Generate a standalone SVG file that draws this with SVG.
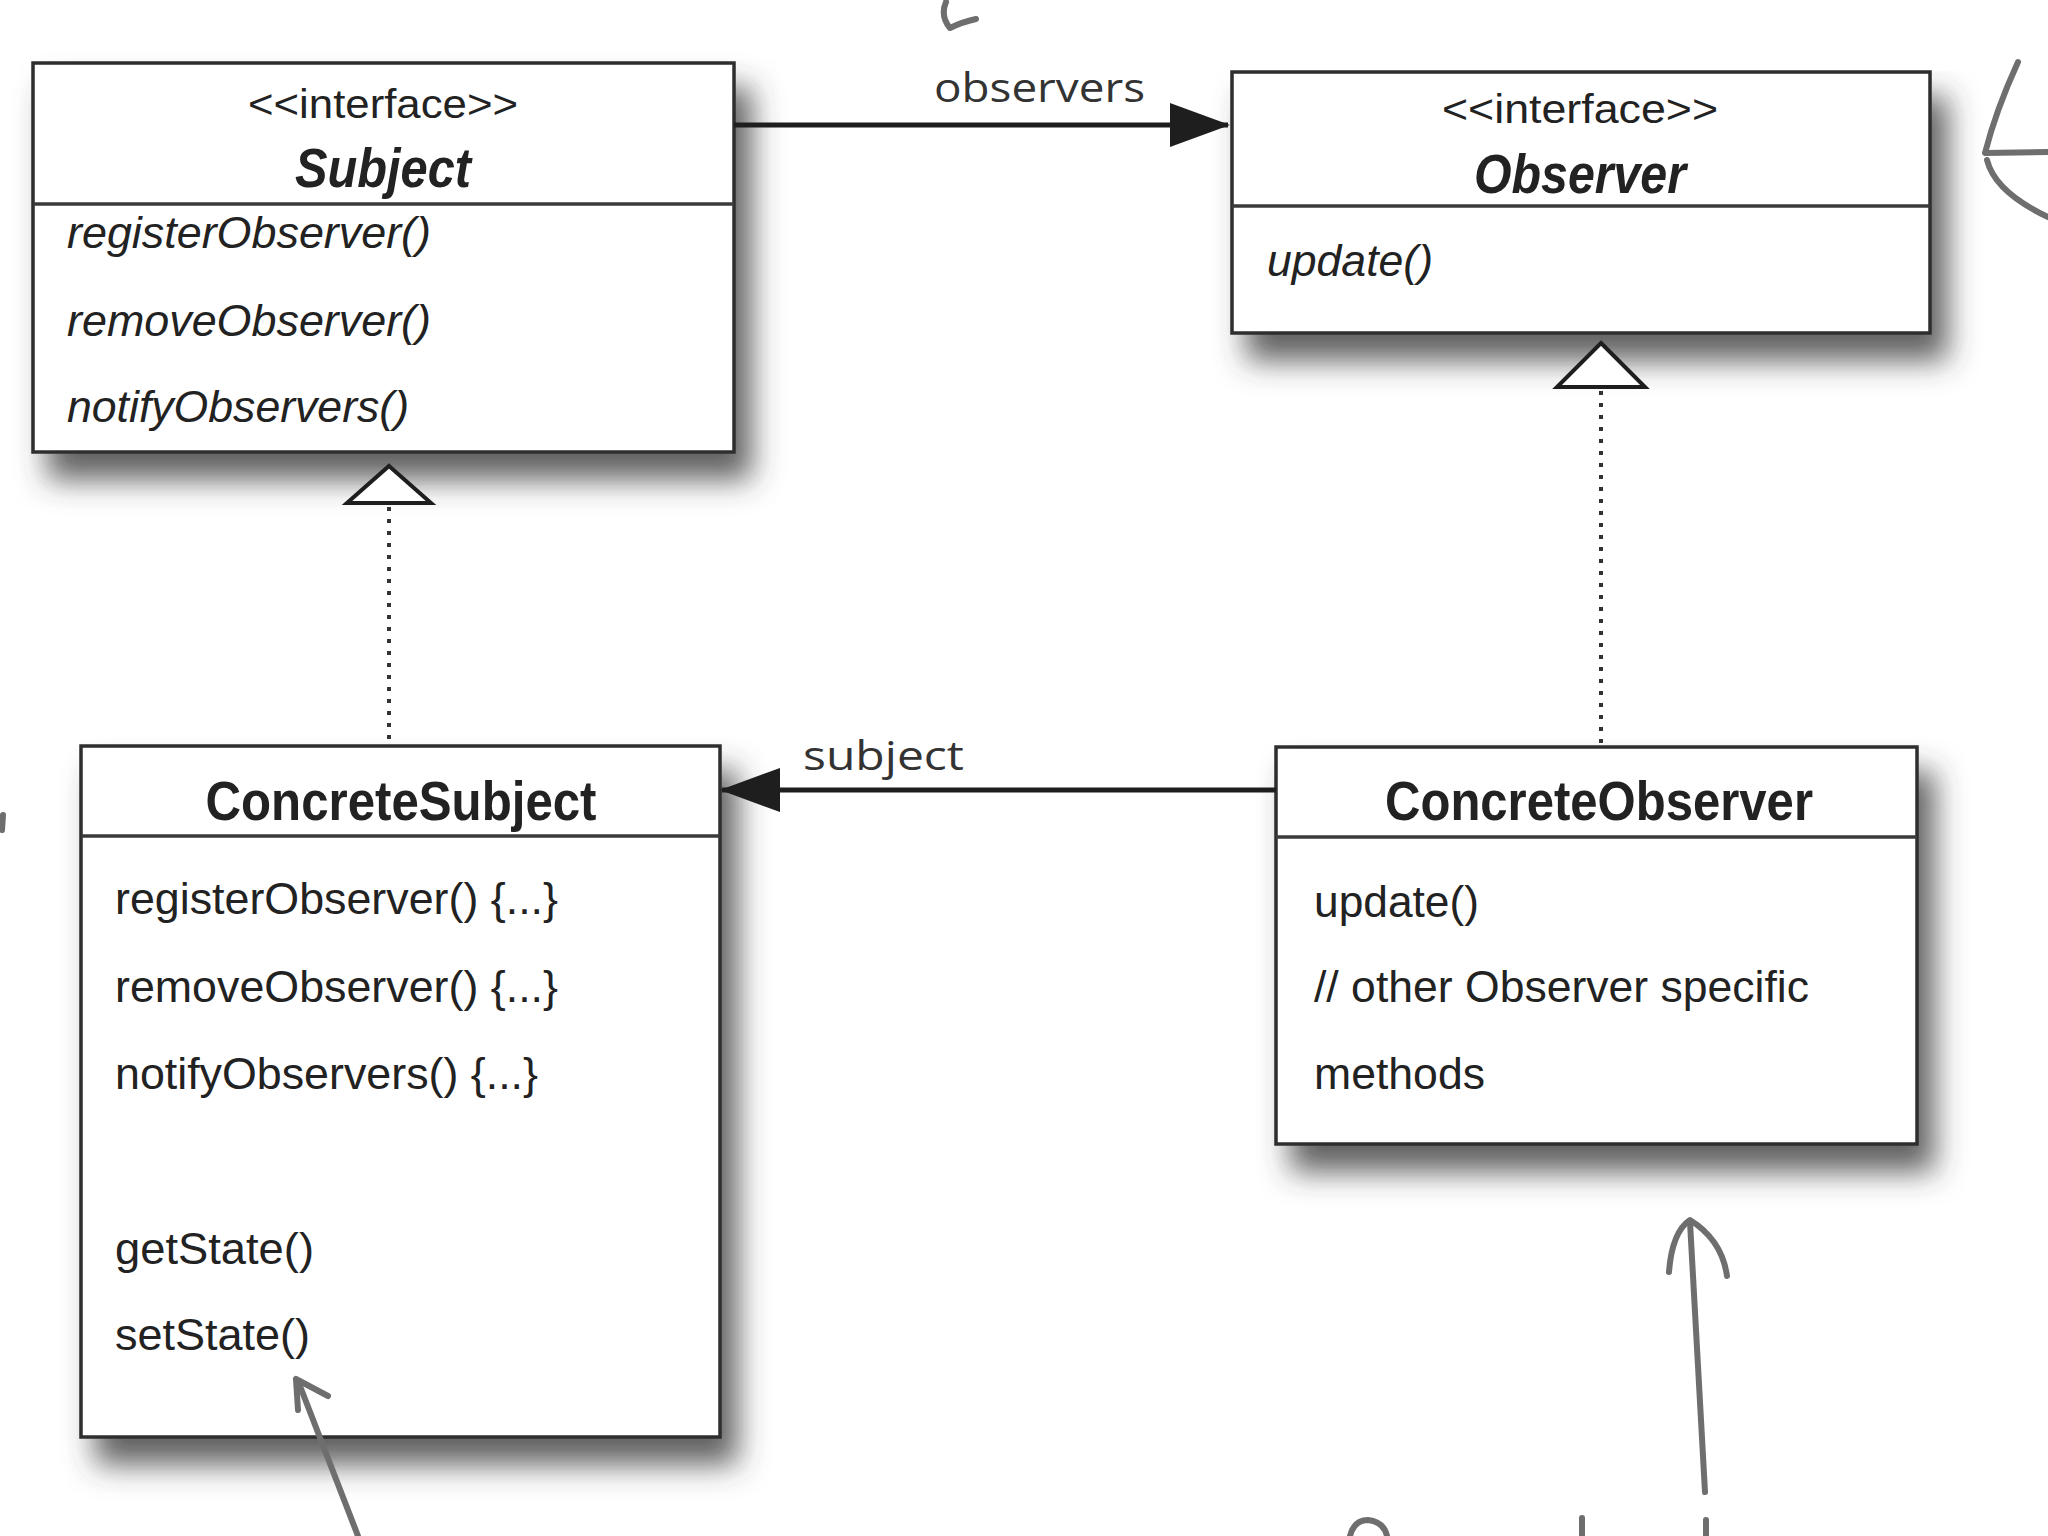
<svg xmlns="http://www.w3.org/2000/svg" width="2048" height="1536" viewBox="0 0 2048 1536">
<defs>
<filter id="sh" x="-10%" y="-10%" width="130%" height="145%">
<feGaussianBlur in="SourceAlpha" stdDeviation="15"/>
<feOffset dx="16" dy="26" result="b"/>
<feFlood flood-color="#3a3a3a" flood-opacity="0.8"/>
<feComposite in2="b" operator="in"/>
<feMerge><feMergeNode/><feMergeNode in="SourceGraphic"/></feMerge>
</filter>
<marker id="filled" viewBox="0 0 60 44" refX="58" refY="22" markerWidth="60" markerHeight="44" markerUnits="userSpaceOnUse" orient="auto">
<path d="M0,0 L60,22 L0,44 Z" fill="#1e1e1e"/>
</marker>
</defs>
<style>
.box{fill:#fff;stroke:#2e2e2e;stroke-width:3.5}
.div{stroke:#3a3a3a;stroke-width:3.5}
.t{font-family:"Liberation Sans",Arial,sans-serif;fill:#222}
.stereo{font-size:40px}
.title{font-size:56px;font-weight:bold}
.it{font-style:italic}
.m{font-size:45px}
.lbl{font-family:"Open Sans","DejaVu Sans",sans-serif;font-size:40px;fill:#333}
.assoc{stroke:#1e1e1e;stroke-width:5;fill:none}
.real{stroke:#333;stroke-width:4;stroke-dasharray:4 8;fill:none}
.tri{fill:#fff;stroke:#1e1e1e;stroke-width:4}
.pen{stroke:#6e6e6e;stroke-width:6;fill:none;stroke-linecap:round;stroke-linejoin:round}
</style>
<rect width="2048" height="1536" fill="#fff"/>

<g id="Subject">
<rect class="box" x="33" y="63" width="701" height="389" filter="url(#sh)"/>
<line class="div" x1="33" y1="204" x2="734" y2="204"/>
<text class="t stereo" x="383" y="118" text-anchor="middle" textLength="270" lengthAdjust="spacingAndGlyphs">&lt;&lt;interface&gt;&gt;</text>
<text class="t title it" x="383" y="187" text-anchor="middle" textLength="176" lengthAdjust="spacingAndGlyphs">Subject</text>
<text class="t m it" x="67" y="248" textLength="364" lengthAdjust="spacingAndGlyphs">registerObserver()</text>
<text class="t m it" x="67" y="336" textLength="364" lengthAdjust="spacingAndGlyphs">removeObserver()</text>
<text class="t m it" x="67" y="422" textLength="342" lengthAdjust="spacingAndGlyphs">notifyObservers()</text>
</g>

<g id="Observer">
<rect class="box" x="1232" y="72" width="698" height="261" filter="url(#sh)"/>
<line class="div" x1="1232" y1="206" x2="1930" y2="206"/>
<text class="t stereo" x="1580" y="123" text-anchor="middle" textLength="276" lengthAdjust="spacingAndGlyphs">&lt;&lt;interface&gt;&gt;</text>
<text class="t title it" x="1580" y="193" text-anchor="middle" textLength="212" lengthAdjust="spacingAndGlyphs">Observer</text>
<text class="t m it" x="1267" y="276" textLength="166" lengthAdjust="spacingAndGlyphs">update()</text>
</g>

<g id="ConcreteSubject">
<rect class="box" x="81" y="746" width="639" height="691" filter="url(#sh)"/>
<line class="div" x1="81" y1="836" x2="720" y2="836"/>
<text class="t title" x="401" y="820" text-anchor="middle" textLength="391" lengthAdjust="spacingAndGlyphs">ConcreteSubject</text>
<text class="t m" x="115" y="914" textLength="443" lengthAdjust="spacingAndGlyphs">registerObserver() {...}</text>
<text class="t m" x="115" y="1002" textLength="443" lengthAdjust="spacingAndGlyphs">removeObserver() {...}</text>
<text class="t m" x="115" y="1089" textLength="423" lengthAdjust="spacingAndGlyphs">notifyObservers() {...}</text>
<text class="t m" x="115" y="1264" textLength="199" lengthAdjust="spacingAndGlyphs">getState()</text>
<text class="t m" x="115" y="1350" textLength="195" lengthAdjust="spacingAndGlyphs">setState()</text>
</g>

<g id="ConcreteObserver">
<rect class="box" x="1276" y="747" width="641" height="397" filter="url(#sh)"/>
<line class="div" x1="1276" y1="837" x2="1917" y2="837"/>
<text class="t title" x="1599" y="820" text-anchor="middle" textLength="428" lengthAdjust="spacingAndGlyphs">ConcreteObserver</text>
<text class="t m" x="1314" y="917" textLength="165" lengthAdjust="spacingAndGlyphs">update()</text>
<text class="t m" x="1314" y="1002" textLength="495" lengthAdjust="spacingAndGlyphs">// other Observer specific</text>
<text class="t m" x="1314" y="1089" textLength="171" lengthAdjust="spacingAndGlyphs">methods</text>
</g>

<g id="connectors">
<line class="assoc" x1="734" y1="125" x2="1228" y2="125" marker-end="url(#filled)"/>
<text class="lbl" x="934" y="102" textLength="211" lengthAdjust="spacingAndGlyphs">observers</text>
<line class="assoc" x1="1276" y1="790" x2="722" y2="790" marker-end="url(#filled)"/>
<text class="lbl" x="803" y="770" textLength="161" lengthAdjust="spacingAndGlyphs">subject</text>
<line class="real" x1="389" y1="507" x2="389" y2="746"/>
<path class="tri" d="M389,466 L431,503 L347,503 Z"/>
<line class="real" x1="1601" y1="391" x2="1601" y2="747"/>
<path class="tri" d="M1601,343 L1645,387 L1557,387 Z"/>
</g>

<g id="annotations">
<path class="pen" d="M946,2 Q940,16 950,28 Q962,22 976,19"/>
<path class="pen" d="M2018,62 Q1996,110 1985,153 L2048,152"/>
<path class="pen" d="M1987,160 Q1995,192 2048,217"/>
<path class="pen" d="M3,815 L2,830"/>
<path class="pen" d="M358,1536 L300,1386"/>
<path class="pen" d="M296,1379 L298,1410 M296,1379 L328,1396"/>
<path class="pen" d="M1705,1492 L1690,1222"/>
<path class="pen" d="M1669,1272 Q1672,1232 1690,1220 Q1722,1240 1727,1276"/>
<path class="pen" d="M1350,1536 Q1354,1520 1368,1520 Q1384,1522 1387,1536"/>
<path class="pen" d="M1582,1518 L1582,1536"/>
<path class="pen" d="M1706,1520 L1706,1536"/>
</g>
</svg>
